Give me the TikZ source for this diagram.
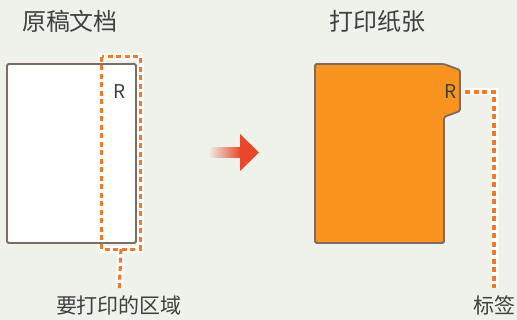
\documentclass[tikz,border=0pt]{standalone}
\usepackage{fontspec}
\setmainfont{Noto Sans CJK SC}
\usepackage{tikz}
\usetikzlibrary{positioning}
\definecolor{bgpage}{HTML}{EEF2EA}
\definecolor{edgegray}{HTML}{7D6B66}
\definecolor{paperorange}{HTML}{F7931E}
\definecolor{dotorange}{HTML}{F47A2A}
\definecolor{arrowred}{HTML}{E8472A}
\definecolor{textgray}{HTML}{404040}

\begin{document}
\begin{tikzpicture}[x=1pt,y=-1pt,
 every node/.style={inner sep=0pt,text=textgray},
 title/.style={font=\fontsize{24}{24}\selectfont},
 note/.style={font=\fontsize{21}{21}\selectfont},
 mark R/.style={font=\fontsize{19}{19}\selectfont},
 sheet/.style={draw=edgegray,line width=1.8pt,rounded corners=1.5pt},
 halo/.style={draw=white,line width=7pt},
 dots/.style={draw=dotorange,line width=3.2pt,dash pattern=on 5pt off 3.5pt}]
\fill[bgpage] (0,0) rectangle (517,320);
\useasboundingbox (0,0) rectangle (517,320);

% original document
\node[title] (origT) at (70,21) {原稿文档};
\node[minimum width=38pt,minimum height=192pt] (area) at (121,153) {};
\node[note] (areaL) at (119,305) {要打印的区域};
\draw[halo] (area.north west) rectangle (area.south east);
\draw[halo,shorten >=7pt] (area.south) -- (areaL.north);
\node[sheet,fill=white,minimum width=129pt,minimum height=179pt] (orig) at (71.5,153.5) {};
\node[mark R] (origR) at (120,92) {R};
\draw[dots] (area.north west) rectangle (area.south east);
\draw[dots,shorten >=7pt] (area.south) -- (areaL.north);

% arrow
\shade[left color=bgpage,right color=arrowred] (208,147.5) rectangle (241,157.5);
\fill[arrowred] (240,134) -- (259,152.5) -- (240,171) -- cycle;

% printed paper
\node[title] (paperT) at (377,21) {打印纸张};
\draw[sheet,fill=paperorange] (315,64) -- (444,64) -- (460,70) -- (460,111)
  -- (444,117) -- (444,243) -- (315,243) -- cycle;
\node[mark R] (tabR) at (451,92) {R};
\node[note] (tabL) at (494,305) {标签};
\draw[halo,shorten >=7pt] ([xshift=8pt]tabR.east) -| (tabL.north);
\draw[dots,shorten >=7pt] ([xshift=8pt]tabR.east) -| (tabL.north);
\end{tikzpicture}
\end{document}
